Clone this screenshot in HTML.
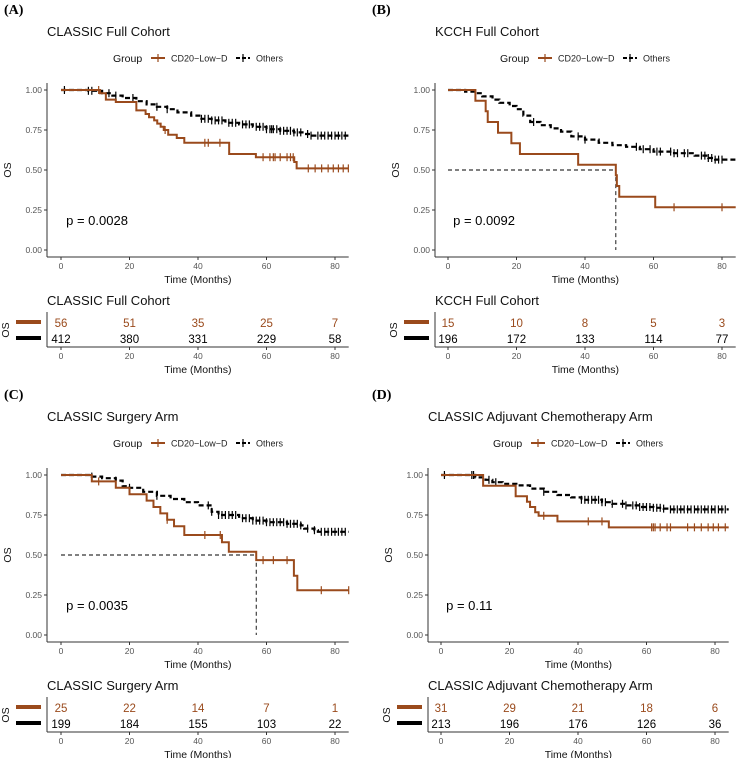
<!DOCTYPE html>
<html><head><meta charset="utf-8">
<style>
html,body{margin:0;padding:0;background:#fff;}
svg{display:block;font-family:"Liberation Sans",sans-serif;}
</style></head>
<body>
<svg id="fig" width="736" height="758" viewBox="0 0 736 758" xmlns="http://www.w3.org/2000/svg"></svg>
<script>
const BROWN = "#9A4A1C";
// ---- data ----
const panelLetters = ["(A)","(B)","(C)","(D)"];
const panelTitles = ["CLASSIC Full Cohort","KCCH Full Cohort","CLASSIC Surgery Arm","CLASSIC Adjuvant Chemotherapy Arm"];
const pValues = ["p = 0.0028","p = 0.0092","p = 0.0035","p = 0.11"];
const xTicks = [0,20,40,60,80];
const yTicks = [0,0.25,0.5,0.75,1];
const yTickLabels = ["0.00","0.25","0.50","0.75","1.00"];
const medianTimes = [null,49,57,null];

const lowA_t = [0,11.4,13.1,16,22,24.7,25.7,27.2,28.1,29.1,30,31.3,33.8,36,49.1,56.9,68.1,68.8];
const lowA_s = [1,0.98,0.94,0.925,0.873,0.85,0.83,0.81,0.79,0.77,0.75,0.72,0.70,0.67,0.60,0.58,0.55,0.51];
const lowA_c = [11,30.4,42,43,46.4,59,61,62,62.5,64,66,67,67.8,72.2,74.2,76.1,78,79.5,81,82.4,83.9];
const othA_t = [0,8,12,15,18,22,25,28,31,34,38,41,44,48,52,56,60,64,68,71,73];
const othA_s = [1,0.995,0.98,0.965,0.95,0.93,0.91,0.895,0.88,0.86,0.84,0.82,0.81,0.795,0.785,0.77,0.755,0.745,0.735,0.725,0.715];
const othA_c = [1,8,9,14,16,21,28,31,41,42,43,44,45,46,47,49,50,51,53,54,55,57,58,59,60,61,61.5,62,63,64,65,66,67,68,69,70,72,73,75,76,77,78,79,80,81,82,83];

const lowB_t = [0,8,11,11.6,14.6,18.5,21,38,49,49.3,50,60.5];
const lowB_s = [1,0.933,0.867,0.80,0.733,0.667,0.60,0.533,0.467,0.40,0.333,0.267];
const lowB_c = [66,80];
const othB_t = [0,5,8,10,13,15,18,20,22,24,27,30,33,36,40,44,48,52,56,60,66,72,76,78];
const othB_s = [1,0.99,0.98,0.96,0.94,0.92,0.90,0.88,0.84,0.80,0.78,0.76,0.74,0.71,0.69,0.67,0.655,0.645,0.63,0.615,0.605,0.59,0.575,0.565];
const othB_c = [25,38,40,55,57,59,61,62,65,66,67,69,70,74,75,76,77,78,79,80];

const lowC_t = [0,9,16,20,25,27,29,31,33,36,47,49,57,68,69];
const lowC_s = [1,0.96,0.92,0.88,0.84,0.80,0.76,0.72,0.68,0.625,0.58,0.52,0.468,0.37,0.28];
const lowC_c = [11,31,42,46.5,59,62,66,76,84];
const othC_t = [0,9,12,16,18,20,24,28,32,36,40,44,46,52,56,60,66,70,71,74,75];
const othC_s = [1,0.99,0.98,0.965,0.93,0.92,0.895,0.87,0.85,0.83,0.81,0.77,0.75,0.73,0.715,0.705,0.695,0.685,0.665,0.655,0.645];
const othC_c = [9,16,20,28,43,44,46,47,48,49,50,51,53,54,55,56,57,58,59,60,61,62,63,64,65,66,67,68,69,70,72,74,76,77,78,79,80,81,82,83];

const lowD_t = [0,12.3,21.8,25.1,26,27.5,28.5,34,49];
const lowD_s = [1,0.933,0.867,0.833,0.80,0.767,0.745,0.71,0.673];
const lowD_c = [30,43,47,61.5,62,62.5,64,66,67,72,74,76,78,79.5,81,83];
const othD_t = [0,10,13,15,18,22,26,30,34,38,41,47,50,54,58,62,65,67];
const othD_s = [1,0.985,0.97,0.955,0.945,0.935,0.915,0.895,0.875,0.86,0.845,0.83,0.82,0.81,0.80,0.795,0.79,0.785];
const othD_c = [1,9,9.5,14,16,30,41,42,43,44,45,46,47,48,50,53,54,56,57,58,59,60,61,62,63,64,65,67,68,69,70,71,72,73,74,75,76,77,78,79,80,81,82,83];

const riskLowA = [56,51,35,25,7],  riskOthA = [412,380,331,229,58];
const riskLowB = [15,10,8,5,3],    riskOthB = [196,172,133,114,77];
const riskLowC = [25,22,14,7,1],   riskOthC = [199,184,155,103,22];
const riskLowD = [31,29,21,18,6],  riskOthD = [213,196,176,126,36];

const series = [
 [lowA_t,lowA_s,lowA_c,othA_t,othA_s,othA_c,riskLowA,riskOthA],
 [lowB_t,lowB_s,lowB_c,othB_t,othB_s,othB_c,riskLowB,riskOthB],
 [lowC_t,lowC_s,lowC_c,othC_t,othC_s,othC_c,riskLowC,riskOthC],
 [lowD_t,lowD_s,lowD_c,othD_t,othD_s,othD_c,riskLowD,riskOthD]
];
// ---- layout ----
const layout = [
 {axisX:47, x0:61, lx:4, legX:113, yOff:0},
 {axisX:435,x0:448,lx:372,legX:500,yOff:0},
 {axisX:47, x0:61, lx:4, legX:113, yOff:385},
 {axisX:428,x0:441,lx:372,legX:493,yOff:385}
];
const PXM = 3.425, XMAX = 84;
const svg = document.getElementById('fig');
const NS = "http://www.w3.org/2000/svg";
function el(tag, attrs, parent, text){
  const e = document.createElementNS(NS, tag);
  for (const k in attrs) e.setAttribute(k, attrs[k]);
  if (text !== undefined) e.textContent = text;
  (parent||svg).appendChild(e);
  return e;
}
function stepPath(ts, ss, xs, ys){
  let d = "M" + xs(ts[0]) + "," + ys(ss[0]);
  for (let i=1;i<ts.length;i++){
    d += " H" + xs(ts[i]) + " V" + ys(ss[i]);
  }
  d += " H" + xs(XMAX);
  return d;
}
function survAt(ts, ss, t){
  let s = ss[0];
  for (let i=0;i<ts.length;i++){ if (ts[i] <= t) s = ss[i]; }
  return s;
}
layout.forEach((L, p) => {
  const [lt,ls,lc,ot,os,oc,rl,ro] = series[p];
  const g = el('g', {}, svg);
  
  
  const Y = L.yOff;
  const xs = t => L.x0 + t*PXM;
  const ys = s => Y + 250 - s*160;
  const xEnd = xs(XMAX);
  const cx = (L.axisX + xEnd)/2;

  let t = el('text', {x:L.lx, y:Y+14, 'font-family':'"Liberation Serif",serif', 'font-weight':'bold', 'font-size':14}, g, panelLetters[p]);
   
  t = el('text', {x:L.axisX, y:Y+36, 'font-size':13, fill:'#111'}, g, panelTitles[p]);
   

  // legend
  const lg = el('g', {}, g);
   
  el('text', {x:L.legX, y:Y+62, 'font-size':10.5, fill:'#111'}, lg, 'Group');
  const k1 = L.legX + 38;
  el('line', {x1:k1, y1:Y+58, x2:k1+14, y2:Y+58, stroke:BROWN, 'stroke-width':2}, lg);
  el('line', {x1:k1+7, y1:Y+54, x2:k1+7, y2:Y+62, stroke:BROWN, 'stroke-width':1.2}, lg);
  el('text', {x:k1+20, y:Y+61.5, 'font-size':9, fill:'#222'}, lg, 'CD20\u2212Low\u2212D');
  const k2 = k1 + 85;
  el('line', {x1:k2, y1:Y+58, x2:k2+14, y2:Y+58, stroke:'#000', 'stroke-width':2, 'stroke-dasharray':'4,2'}, lg);
  el('line', {x1:k2+7, y1:Y+54, x2:k2+7, y2:Y+62, stroke:'#000', 'stroke-width':1.2}, lg);
  el('text', {x:k2+20, y:Y+61.5, 'font-size':9, fill:'#222'}, lg, 'Others');

  // axes
  el('line', {x1:L.axisX, y1:Y+83, x2:L.axisX, y2:Y+257, stroke:'#333', 'stroke-width':1}, g);
  el('line', {x1:L.axisX, y1:Y+257, x2:xEnd, y2:Y+257, stroke:'#333', 'stroke-width':1}, g);
  yTicks.forEach((v,i) => {
    el('line', {x1:L.axisX-3, y1:ys(v), x2:L.axisX, y2:ys(v), stroke:'#333'}, g);
    const tl = el('text', {x:L.axisX-5, y:ys(v)+3, 'font-size':8.5, fill:'#555', 'text-anchor':'end'}, g, yTickLabels[i]);
     
  });
  xTicks.forEach(v => {
    el('line', {x1:xs(v), y1:Y+257, x2:xs(v), y2:Y+260, stroke:'#333'}, g);
    const tl = el('text', {x:xs(v), y:Y+269, 'font-size':8.5, fill:'#555', 'text-anchor':'middle'}, g, String(v));
     
  });
  t = el('text', {x:cx, y:Y+283, 'font-size':10.5, fill:'#111', 'text-anchor':'middle'}, g, 'Time (Months)');
   
  t = el('text', {x:0, y:0, 'font-size':10.5, fill:'#111', 'text-anchor':'middle', transform:`translate(${L.axisX-36},${Y+170}) rotate(-90)`}, g, 'OS');
   

  // median lines
  if (medianTimes[p] !== null){
    const m = medianTimes[p];
    el('path', {d:`M${xs(0)},${ys(0.5)} H${xs(m)} V${ys(0)}`, fill:'none', stroke:'#000', 'stroke-width':0.9, 'stroke-dasharray':'4,3'}, g);
  }
  // curves
  let c = el('path', {d:stepPath(ot,os,xs,ys), fill:'none', stroke:'#000', 'stroke-width':2.2, 'stroke-dasharray':'5,3'}, g);
   
  oc.forEach(tc => {
    const yy = ys(survAt(ot,os,tc));
    el('line', {x1:xs(tc), y1:yy-4, x2:xs(tc), y2:yy+4, stroke:'#000', 'stroke-width':1.2}, g);
  });
  c = el('path', {d:stepPath(lt,ls,xs,ys), fill:'none', stroke:BROWN, 'stroke-width':2}, g);
   
  lc.forEach(tc => {
    const yy = ys(survAt(lt,ls,tc));
    el('line', {x1:xs(tc), y1:yy-4, x2:xs(tc), y2:yy+4, stroke:BROWN, 'stroke-width':1.2}, g);
  });
  t = el('text', {x:xs(1.5), y:Y+225, 'font-size':13, fill:'#000'}, g, pValues[p]);
   

  // risk table
  const rg = el('g', {}, g);
   
  el('text', {x:L.axisX, y:Y+305, 'font-size':13, fill:'#111'}, rg, panelTitles[p]);
  el('line', {x1:L.axisX, y1:Y+312, x2:L.axisX, y2:Y+347, stroke:'#333'}, rg);
  el('line', {x1:L.axisX, y1:Y+347, x2:xEnd, y2:Y+347, stroke:'#333'}, rg);
  el('rect', {x:L.axisX-31, y:Y+320, width:25, height:4, fill:BROWN}, rg);
  el('rect', {x:L.axisX-31, y:Y+336, width:25, height:4, fill:'#000'}, rg);
  el('text', {x:0, y:0, 'font-size':10.5, fill:'#111', 'text-anchor':'middle', transform:`translate(${L.axisX-38},${Y+330}) rotate(-90)`}, rg, 'OS');
  xTicks.forEach((v,i) => {
    el('text', {x:xs(v), y:Y+327, 'font-size':11.5, fill:BROWN, 'text-anchor':'middle'}, rg, String(rl[i]));
    el('text', {x:xs(v), y:Y+343, 'font-size':11.5, fill:'#000', 'text-anchor':'middle'}, rg, String(ro[i]));
    el('line', {x1:xs(v), y1:Y+347, x2:xs(v), y2:Y+350, stroke:'#333'}, rg);
    el('text', {x:xs(v), y:Y+359, 'font-size':8.5, fill:'#555', 'text-anchor':'middle'}, rg, String(v));
  });
  el('text', {x:cx, y:Y+373, 'font-size':10.5, fill:'#111', 'text-anchor':'middle'}, rg, 'Time (Months)');
});
</script>
</body></html>
